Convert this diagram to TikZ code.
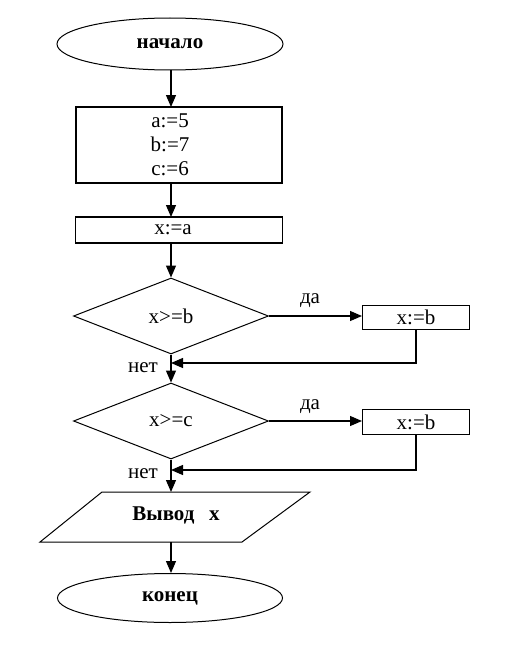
\documentclass[tikz,border=0pt]{standalone}
\usepackage{fontspec}
\setmainfont{Liberation Serif}
\usetikzlibrary{shapes.geometric,arrows.meta}
\begin{document}
\begin{tikzpicture}[x=1pt,y=-1pt,
  every node/.style={font=\fontsize{21}{24}\selectfont},
  term/.style={draw,ellipse,line width=1pt,inner sep=0pt,font=\fontsize{21}{24}\selectfont\bfseries},
  proc/.style={draw,rectangle,line width=1.2pt,inner sep=0pt},
  dec/.style={draw,diamond,line width=1pt,inner sep=0pt,aspect=2.57},
  lbl/.style={inner sep=0pt},
  arr/.style={line width=1.2pt,-{Triangle[length=12pt,width=10pt]}},
  ln/.style={line width=1.2pt}]
\useasboundingbox (0,0) rectangle (509,661);
% nodes
\node[term,minimum width=226pt,minimum height=52pt] (start) at (170,44) {начало};
\node[proc,minimum width=206pt,minimum height=76pt] (init) at (179,145) {};
\node[lbl,align=center] (inittext) at (170,145) {a:=5\\b:=7\\c:=6};
\node[proc,minimum width=207pt,minimum height=26pt] (seta) at (179,230) {};
\node[lbl] (setatext) at (173,230) {x:=a};
\node[dec,minimum width=195pt,minimum height=76pt] (d1) at (171,316) {x>=b};
\node[proc,line width=1pt,minimum width=107pt,minimum height=24pt] (y1) at (416,317) {x:=b};
\node[dec,minimum width=195pt,minimum height=76pt] (d2) at (171,421) {x>=c};
\node[proc,line width=1pt,minimum width=107pt,minimum height=25pt] (y2) at (416,422) {x:=b};
\node[lbl,minimum width=204pt,minimum height=50pt] (out) at (173.5,517) {};
\draw[line width=1pt] (102,492) -- (310,492) -- (242,542) -- (40,542) -- cycle;
\node[lbl,font=\fontsize{21}{24}\selectfont\bfseries] (outtext) at (176,515) {Вывод\hspace{0.7em}x};
\node[term,minimum width=225pt,minimum height=49pt] (stop) at (170,598) {конец};
\coordinate (m1) at (171,363);
\coordinate (m2) at (171,470);
% labels
\node[lbl] (da1) at (310,301) {да};
\node[lbl] (da2) at (310,407) {да};
\node[lbl] (net1) at (143,368) {нет};
\node[lbl] (net2) at (143,474) {нет};
% connectors
\draw[arr] (171,70) -- (171,107);
\draw[arr] (171,183) -- (171,217);
\draw[arr] (171,243) -- (d1.north);
\draw[arr] (d1.east) -- (d1.east -| y1.west);
\draw[arr] (y1.south) |- (m1);
\draw[arr] (d1.south) -- (d2.north);
\draw[arr] (d2.east) -- (d2.east -| y2.west);
\draw[arr] (y2.south) |- (m2);
\draw[arr] (d2.south) -- (171,492);
\draw[arr] (171,542) -- (stop.north -| 171,0);
\end{tikzpicture}
\end{document}
